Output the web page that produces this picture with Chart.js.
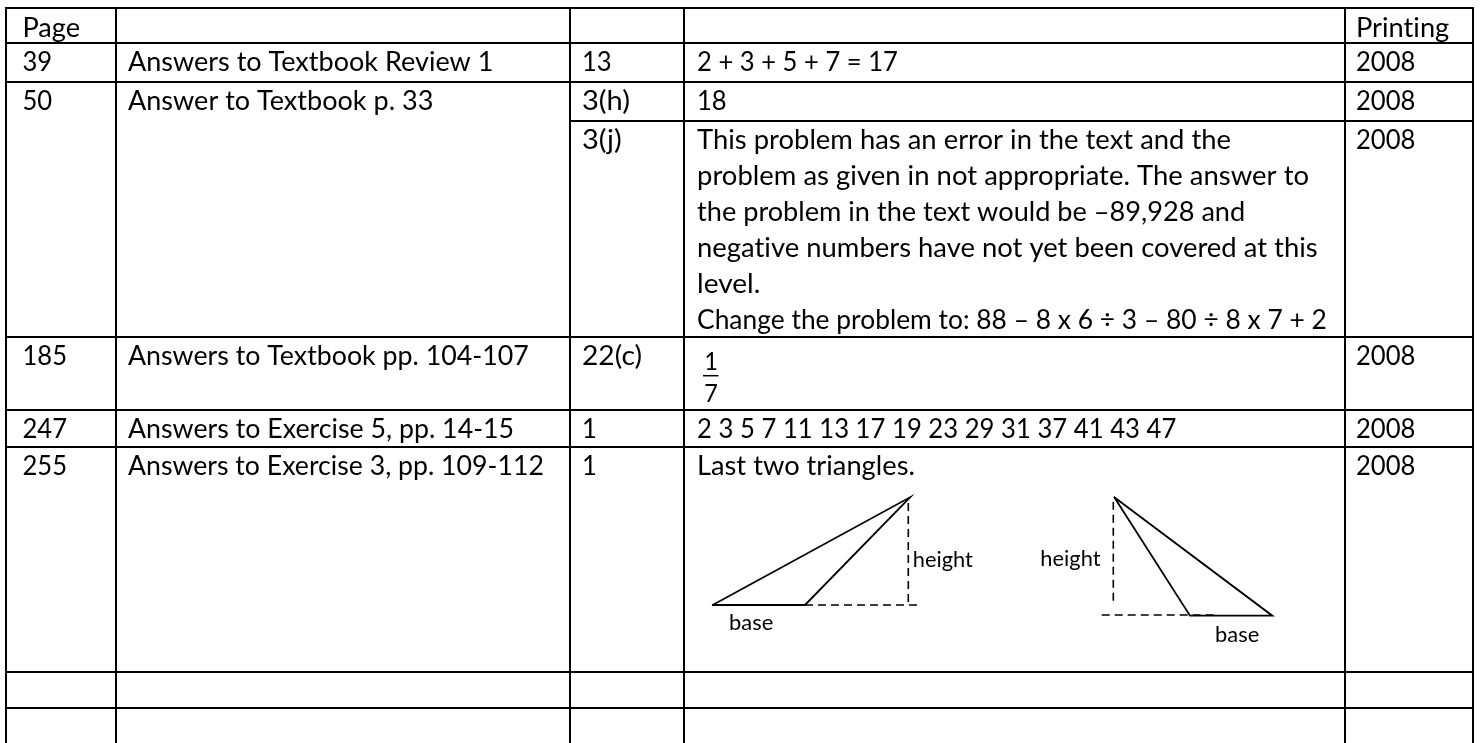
<!DOCTYPE html>
<html><head><meta charset="utf-8">
<script src="https://cdn.jsdelivr.net/npm/chart.js@4.4.1/dist/chart.umd.min.js"></script>
<style>html,body{margin:0;padding:0;background:#fff;overflow:hidden}canvas{display:block}</style>
</head><body>
<canvas id="c" width="1483" height="743"></canvas>
<script>
// ---------- DATA (table content) ----------
const headerLabels = ["Page", "", "", "", "Printing"];
const pageNumbers = ["39", "50", "185", "247", "255"];
const sectionNames = [
  "Answers to Textbook Review 1",
  "Answer to Textbook p. 33",
  "Answers to Textbook pp. 104-107",
  "Answers to Exercise 5, pp. 14-15",
  "Answers to Exercise 3, pp. 109-112"
];
const problemNumbers = ["13", "3(h)", "3(j)", "22(c)", "1", "1"];
const correctionLines = [
  ["2 + 3 + 5 + 7 = 17"],
  ["18"],
  ["This problem has an error in the text and the",
   "problem as given in not appropriate. The answer to",
   "the problem in the text would be \u201389,928 and",
   "negative numbers have not yet been covered at this",
   "level.",
   "Change the problem to: 88 \u2013 8 x 6 \u00f7 3 \u2013 80 \u00f7 8 x 7 + 2"],
  [],
  ["2 3 5 7 11 13 17 19 23 29 31 37 41 43 47"],
  ["Last two triangles."]
];
const fractionParts = ["1", "7"];
const printingYears = ["2008", "2008", "2008", "2008", "2008", "2008"];
const figureLabels = ["height", "base", "height", "base"];

// ---------- LAYOUT ----------
const W = 1483, H = 743;
const colEdges = [6, 116, 570, 684, 1345, 1473];
const rowEdges = [8, 43, 82, 121, 337, 410, 447, 672, 708]; // header top, then each sub-row top
const groupStarts = [0, 1, 3, 4, 5, 6, 7];   // sub-rows that begin a new page group
const pageGroupRows = [0, 1, 3, 4, 5];
const textX = [22.5, 128, 582, 697, 1356];
const baseOffset = 27.5, lineStep = 36;
const fractionSub = 3;

// figure geometry (page units)
const leftTri = [[712.7, 605], [910, 497.3], [805, 605], [712.7, 605]];
const leftDashH = [[805, 605], [919, 605]];
const leftDashV = [[908.3, 503], [908.3, 605]];
const rightTri = [[1114.3, 497.3], [1190, 615.7], [1272.3, 615.7], [1114.3, 497.3]];
const rightDashV = [[1113.3, 501.7], [1113.3, 605]];
const rightDashH = [[1101.7, 615], [1216.7, 615]];
const labelPos = [[912.7, 566.7, 'left'], [729, 630, 'left'], [1100.5, 565.5, 'right'], [1215, 641.7, 'left']];

// approximate advance widths of the original face (units per 2048 em), used to size the substitute font
const refAdvance = {' ':463,'(':621,')':621,'+':1024,'=':1024,'\u00f7':1024,'\u2013':1024,'-':627,',':511,'.':517,':':548,
  'A':1185,'C':1092,'E':1000,'L':861,'P':1058,'R':1112,'T':998,
  'a':981,'b':1076,'c':866,'d':1076,'e':1019,'f':625,'g':964,'h':1076,'i':470,'j':490,'k':931,'l':470,'m':1636,
  'n':1076,'o':1080,'p':1076,'q':1076,'r':714,'s':817,'t':686,'u':1076,'v':925,'w':1464,'x':887,'y':927,'z':809};
function refWidth(s, px) {
  let u = 0;
  for (const ch of s) u += (ch >= '0' && ch <= '9') ? 1038 : (refAdvance[ch] || 1000);
  return u / 2048 * px;
}

// ---------- build datasets ----------
const datasets = [];
function seg(points, opts) {
  datasets.push(Object.assign({
    type: 'scatter', showLine: true, data: points.map(p => ({x: p[0], y: p[1]})),
    borderColor: '#000', borderWidth: 2, pointRadius: 0, pointHoverRadius: 0,
    fill: false, tension: 0, borderCapStyle: 'square', borderJoinStyle: 'miter', clip: false
  }, opts || {}));
}
const tableBottom = H + 2;
colEdges.forEach(x => seg([[x, rowEdges[0]], [x, tableBottom]]));
rowEdges.forEach((y, k) => {
  let x0 = colEdges[0];
  if (k >= 2 && groupStarts.indexOf(k - 1) < 0) x0 = colEdges[2];
  seg([[x0, y], [colEdges[colEdges.length - 1], y]]);
});
seg(leftTri, {borderWidth: 1.8, borderCapStyle: 'round'});
seg(rightTri, {borderWidth: 1.8, borderCapStyle: 'round'});
[leftDashH, leftDashV, rightDashV, rightDashH].forEach(p =>
  seg(p, {borderWidth: 1.6, borderDash: [8, 5], borderCapStyle: 'butt'}));

// ---------- text plugin ----------
const FONT = 'Lato, "Open Sans", sans-serif';
const textPlugin = {
  id: 'tableText',
  afterDatasetsDraw(chart) {
    const ctx = chart.ctx, xs = chart.scales.x, ys = chart.scales.y;
    ctx.save();
    ctx.fillStyle = '#000';
    ctx.textBaseline = 'alphabetic';
    try { ctx.textRendering = 'optimizeSpeed'; } catch (e) {}
    try { ctx.letterSpacing = '0.01px'; } catch (e) {}
    function txt(s, xv, yv, size, refPx, align) {
      if (!s) return;
      ctx.font = size + 'px ' + FONT;
      ctx.textAlign = align || 'left';
      const m = ctx.measureText(s).width;
      const sx = m > 0 ? refWidth(s, refPx) / m : 1;
      ctx.save();
      ctx.translate(xs.getPixelForValue(xv), ys.getPixelForValue(yv));
      ctx.scale(sx, 1);
      ctx.fillText(s, 0, 0);
      ctx.restore();
    }
    const S = 27, R = 29.33;
    headerLabels.forEach((s, c) => txt(s, textX[c], rowEdges[0] + baseOffset + 1.5, S, R));
    pageGroupRows.forEach((sub, g) => {
      const y = rowEdges[sub + 1] + baseOffset;
      txt(pageNumbers[g], textX[0], y, S, R);
      txt(sectionNames[g], textX[1], y, S, R);
    });
    problemNumbers.forEach((s, sub) => {
      const top = rowEdges[sub + 1];
      txt(s, textX[2], top + baseOffset, S, R);
      correctionLines[sub].forEach((line, i) => txt(line, textX[3], top + baseOffset + i * lineStep, S, R));
      txt(printingYears[sub], textX[4], top + baseOffset, S, R);
    });
    // stacked fraction
    const fTop = rowEdges[fractionSub + 1];
    const fx = 711;
    txt(fractionParts[0], fx, fTop + 33, 25, 27, 'center');
    ctx.strokeStyle = '#000'; ctx.lineWidth = 1.5;
    ctx.beginPath();
    ctx.moveTo(xs.getPixelForValue(703), ys.getPixelForValue(fTop + 38.7));
    ctx.lineTo(xs.getPixelForValue(718.5), ys.getPixelForValue(fTop + 38.7));
    ctx.stroke();
    txt(fractionParts[1], fx, fTop + 65, 25, 27, 'center');
    // figure labels
    figureLabels.forEach((s, i) => txt(s, labelPos[i][0], labelPos[i][1], 21.5, 23.3, labelPos[i][2]));
    ctx.restore();
  }
};

new Chart(document.getElementById('c'), {
  type: 'scatter',
  data: { datasets },
  options: {
    responsive: false, animation: false, devicePixelRatio: 1,
    layout: { padding: 0 },
    events: [],
    plugins: { legend: { display: false }, tooltip: { enabled: false } },
    scales: {
      x: { type: 'linear', min: 0, max: W, display: false },
      y: { type: 'linear', min: 0, max: H, reverse: true, display: false }
    }
  },
  plugins: [textPlugin]
});
</script>
</body></html>
